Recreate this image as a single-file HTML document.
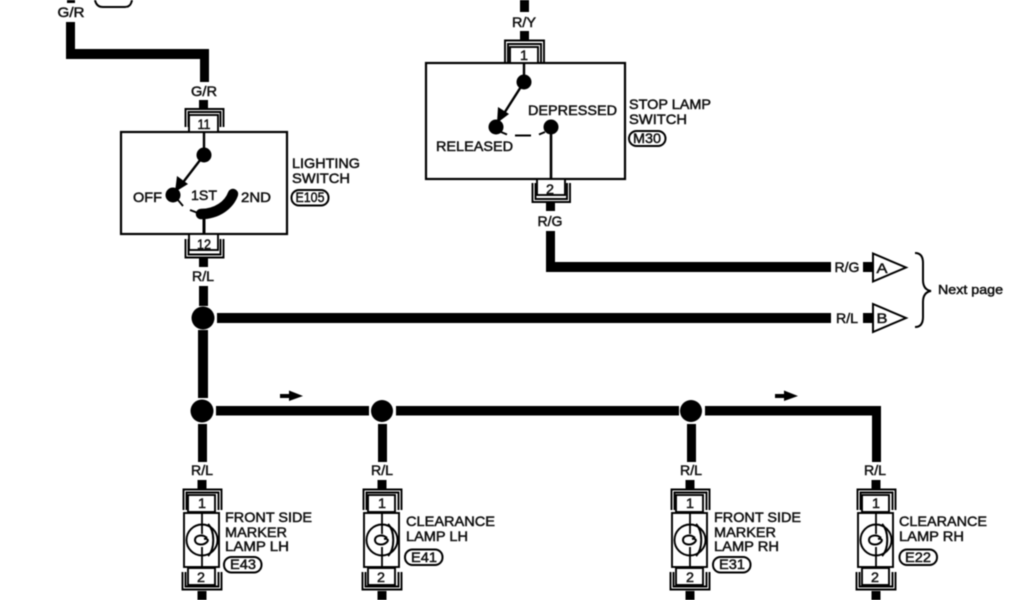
<!DOCTYPE html>
<html><head><meta charset="utf-8"><style>
html,body{margin:0;padding:0;background:#fff;width:1024px;height:600px;overflow:hidden}
svg{display:block;filter:blur(.4px)}
text{font-family:"Liberation Sans",sans-serif;font-size:14px;fill:#111;stroke:#111;stroke-width:.5}
.m{text-anchor:middle}
</style></head><body>
<svg width="1024" height="600" viewBox="0 0 1024 600" xmlns="http://www.w3.org/2000/svg">
<defs>
<g id="lamp">
<rect x="-4.500" y="480" width="9" height="9" fill="#000"/>
<path d="M-18.500 510V489.500H19.500V510M-15.500 510V492.500H16.500V510" fill="none" stroke="#000" stroke-width="1.900"/>
<rect x="-14" y="495" width="27" height="17" fill="#fff" stroke="#000" stroke-width="1.900"/>
<rect x="-18" y="513" width="35" height="54" fill="#fff" stroke="#000" stroke-width="1.900"/>
<rect x="-14" y="568" width="27" height="17" fill="#fff" stroke="#000" stroke-width="1.900"/>
<path d="M-19.500 572V589.500H19.500V572M-16.500 572V586.500H16.500V572" fill="none" stroke="#000" stroke-width="1.900"/>
<rect x="-4.500" y="591" width="9" height="9" fill="#000"/>
<circle cx="0" cy="540" r="15.500" fill="none" stroke="#000" stroke-width="1.900"/>
<path d="M0 513V534M0 547V567" stroke="#000" stroke-width="1.800" fill="none"/>
<path d="M6 524C13 531 13 549 6 556M5 538C1 534 -7 535 -7 540C-7 545 1 546 5 542C7 540 5 538 2 539" fill="none" stroke="#000" stroke-width="2"/>
</g>
</defs>
<rect width="1024" height="600" fill="#fff"/>

<!-- thick wires -->
<g fill="#000">
<rect x="67" y="0" width="8" height="3"/>
<rect x="66" y="22" width="9" height="37"/>
<rect x="66" y="49" width="143" height="10"/>
<rect x="200" y="49" width="9" height="33"/>
<rect x="199" y="100" width="9" height="9"/>
<rect x="199" y="258" width="9" height="9"/>
<rect x="199" y="286" width="9" height="20"/>
<circle cx="203" cy="318" r="11.500"/>
<rect x="217" y="313" width="614" height="10"/>
<rect x="198" y="330" width="10" height="68"/>
<circle cx="202" cy="411" r="11.500"/>
<rect x="216" y="406" width="153" height="9.500"/>
<circle cx="382" cy="411" r="11"/>
<rect x="396" y="406" width="283" height="9.500"/>
<circle cx="691" cy="411" r="11"/>
<rect x="705" y="406" width="176" height="9.500"/>
<rect x="872" y="406" width="9" height="56"/>
<rect x="198" y="424" width="9" height="38"/>
<rect x="378" y="424" width="9" height="38"/>
<rect x="687" y="424" width="9" height="38"/>
<rect x="520" y="0" width="9" height="12"/>
<rect x="520" y="31" width="9" height="9"/>
<rect x="546" y="203" width="9" height="8"/>
<rect x="546" y="231" width="9" height="40"/>
<rect x="546" y="262" width="285" height="10"/>
<rect x="863" y="262" width="11" height="10"/>
<rect x="863" y="313" width="11" height="10"/>
</g>

<!-- flow arrows -->
<path d="M280 394H289V390.500L303 396L289 401V398H280Z" fill="#000"/>
<path d="M775 394H784V390.500L798 396L784 401V398H775Z" fill="#000"/>

<!-- top badge fragment -->
<path d="M95 0C96 5 99 7 103 7H125C129 7 131 5 132 0" fill="none" stroke="#000" stroke-width="2"/>
<text x="71" y="17" class="m" textLength="27" lengthAdjust="spacingAndGlyphs">G/R</text>

<!-- Lighting switch -->
<text x="204" y="96" class="m" textLength="26" lengthAdjust="spacingAndGlyphs">G/R</text>
<path d="M185.500 127V109H223.500V127M188.500 127V112H220.500V127" fill="none" stroke="#000" stroke-width="1.900"/>
<rect x="121" y="132" width="166" height="102" fill="#fff" stroke="#000" stroke-width="2.200"/>
<rect x="189" y="115" width="29" height="17" fill="#fff" stroke="#000" stroke-width="1.900"/>
<text x="204" y="129" class="m" textLength="13" lengthAdjust="spacingAndGlyphs">11</text>
<rect x="189" y="234" width="29" height="16" fill="#fff" stroke="#000" stroke-width="1.900"/>
<text x="204" y="249" class="m" textLength="14" lengthAdjust="spacingAndGlyphs">12</text>
<path d="M185.500 239V257.500H223.500V239M188.500 239V254.500H220.500V239" fill="none" stroke="#000" stroke-width="1.900"/>
<text x="203" y="281" class="m" textLength="22" lengthAdjust="spacingAndGlyphs">R/L</text>
<circle cx="204" cy="155" r="7.500" fill="#000"/>
<path d="M204 132V155M204 155L181 185" stroke="#000" stroke-width="2.400" fill="none"/>
<path d="M175 192L177 176L188 184Z" fill="#000"/>
<circle cx="173" cy="195" r="7.500" fill="#000"/>
<path d="M178 200L183 206" stroke="#000" stroke-width="1.800"/>
<path d="M233 194C229 205 217 214 201 214" fill="none" stroke="#000" stroke-width="10.500" stroke-linecap="round"/>
<path d="M190 210L198 213" stroke="#000" stroke-width="2"/>
<path d="M204 216V234" stroke="#000" stroke-width="3"/>
<text x="191" y="200" textLength="26" lengthAdjust="spacingAndGlyphs">1ST</text>
<text x="133" y="202" textLength="29" lengthAdjust="spacingAndGlyphs">OFF</text>
<text x="241" y="202" textLength="30" lengthAdjust="spacingAndGlyphs">2ND</text>
<text x="292" y="168" textLength="68" lengthAdjust="spacingAndGlyphs">LIGHTING</text>
<text x="292" y="183" textLength="58" lengthAdjust="spacingAndGlyphs">SWITCH</text>
<rect x="291.500" y="190" width="37" height="15.500" rx="7.500" fill="none" stroke="#000" stroke-width="2"/>
<text x="310" y="202" class="m" textLength="29" lengthAdjust="spacingAndGlyphs">E105</text>

<!-- Stop lamp switch -->
<text x="524" y="27" class="m" textLength="24" lengthAdjust="spacingAndGlyphs">R/Y</text>
<path d="M505 62V40.500H544V62M508 62V44H541V62" fill="none" stroke="#000" stroke-width="1.900"/>
<rect x="426" y="63" width="199" height="116" fill="#fff" stroke="#000" stroke-width="2.200"/>
<rect x="510" y="47" width="28" height="16" fill="#fff" stroke="#000" stroke-width="1.900"/>
<text x="524" y="60" class="m" textLength="8" lengthAdjust="spacingAndGlyphs">1</text>
<rect x="537" y="179" width="28" height="16" fill="#fff" stroke="#000" stroke-width="1.900"/>
<text x="550" y="194" class="m" textLength="8" lengthAdjust="spacingAndGlyphs">2</text>
<path d="M532.500 183V202H570V183M535.500 183V199H567V183" fill="none" stroke="#000" stroke-width="1.900"/>
<text x="550" y="226" class="m" textLength="25" lengthAdjust="spacingAndGlyphs">R/G</text>
<circle cx="524" cy="82" r="7.500" fill="#000"/>
<path d="M524 63V82M524 82L503 115" stroke="#000" stroke-width="2.400" fill="none"/>
<path d="M497 123L498 107L509 114Z" fill="#000"/>
<circle cx="496" cy="127" r="7.500" fill="#000"/>
<circle cx="551" cy="127" r="7.500" fill="#000"/>
<path d="M551 127V179" stroke="#000" stroke-width="2.600"/>
<path d="M501 132L507 134.500M515 135.500H531M539 134.500L545 132" stroke="#000" stroke-width="2" fill="none"/>
<text x="528" y="115" textLength="89" lengthAdjust="spacingAndGlyphs">DEPRESSED</text>
<text x="436" y="151" textLength="77" lengthAdjust="spacingAndGlyphs">RELEASED</text>
<text x="629" y="109" textLength="82" lengthAdjust="spacingAndGlyphs">STOP LAMP</text>
<text x="629" y="124" textLength="58" lengthAdjust="spacingAndGlyphs">SWITCH</text>
<rect x="629" y="131" width="36.500" height="15" rx="7.500" fill="none" stroke="#000" stroke-width="2"/>
<text x="647" y="143" class="m" textLength="28" lengthAdjust="spacingAndGlyphs">M30</text>

<!-- Terminals -->
<text x="847" y="272" class="m" textLength="25" lengthAdjust="spacingAndGlyphs">R/G</text>
<text x="847" y="323" class="m" textLength="22" lengthAdjust="spacingAndGlyphs">R/L</text>
<path d="M873 253.500V281.500L906 267.500Z" fill="#fff" stroke="#000" stroke-width="2"/>
<path d="M873 304V332L906 318Z" fill="#fff" stroke="#000" stroke-width="2"/>
<text x="882" y="273" class="m" textLength="11" lengthAdjust="spacingAndGlyphs">A</text>
<text x="882" y="323" class="m" textLength="11" lengthAdjust="spacingAndGlyphs">B</text>
<path d="M915 253C921 253 923 257 923 263V280C923 286 925 290 931 291C925 292 923 296 923 302V317C923 323 921 327 915 327" fill="none" stroke="#000" stroke-width="2"/>
<text x="938" y="294" textLength="65" lengthAdjust="spacingAndGlyphs" style="font-size:13px">Next page</text>

<!-- Lamps -->
<use href="#lamp" x="202"/>
<use href="#lamp" x="382"/>
<use href="#lamp" x="690"/>
<use href="#lamp" x="876"/>
<g>
<text x="202" y="475" class="m" textLength="22" lengthAdjust="spacingAndGlyphs">R/L</text>
<text x="382" y="475" class="m" textLength="22" lengthAdjust="spacingAndGlyphs">R/L</text>
<text x="691" y="475" class="m" textLength="22" lengthAdjust="spacingAndGlyphs">R/L</text>
<text x="875" y="475" class="m" textLength="22" lengthAdjust="spacingAndGlyphs">R/L</text>
<text x="202" y="508" class="m" textLength="8" lengthAdjust="spacingAndGlyphs">1</text>
<text x="382" y="508" class="m" textLength="8" lengthAdjust="spacingAndGlyphs">1</text>
<text x="690" y="508" class="m" textLength="8" lengthAdjust="spacingAndGlyphs">1</text>
<text x="876" y="508" class="m" textLength="8" lengthAdjust="spacingAndGlyphs">1</text>
<text x="201" y="582" class="m" textLength="8" lengthAdjust="spacingAndGlyphs">2</text>
<text x="381" y="582" class="m" textLength="8" lengthAdjust="spacingAndGlyphs">2</text>
<text x="690" y="582" class="m" textLength="8" lengthAdjust="spacingAndGlyphs">2</text>
<text x="875" y="582" class="m" textLength="8" lengthAdjust="spacingAndGlyphs">2</text>
</g>

<text x="225" y="522" textLength="87" lengthAdjust="spacingAndGlyphs">FRONT SIDE</text>
<text x="225" y="537" textLength="62" lengthAdjust="spacingAndGlyphs">MARKER</text>
<text x="225" y="551" textLength="64" lengthAdjust="spacingAndGlyphs">LAMP LH</text>
<rect x="224" y="557" width="37.500" height="15.500" rx="7.500" fill="none" stroke="#000" stroke-width="2"/>
<text x="243" y="569" class="m" textLength="26" lengthAdjust="spacingAndGlyphs">E43</text>

<text x="406" y="526" textLength="89" lengthAdjust="spacingAndGlyphs">CLEARANCE</text>
<text x="406" y="541" textLength="62" lengthAdjust="spacingAndGlyphs">LAMP LH</text>
<rect x="405" y="549.500" width="37.500" height="15.500" rx="7.500" fill="none" stroke="#000" stroke-width="2"/>
<text x="424" y="562" class="m" textLength="26" lengthAdjust="spacingAndGlyphs">E41</text>

<text x="714" y="522" textLength="87" lengthAdjust="spacingAndGlyphs">FRONT SIDE</text>
<text x="714" y="537" textLength="62" lengthAdjust="spacingAndGlyphs">MARKER</text>
<text x="714" y="551" textLength="65" lengthAdjust="spacingAndGlyphs">LAMP RH</text>
<rect x="713" y="557" width="37.500" height="15.500" rx="7.500" fill="none" stroke="#000" stroke-width="2"/>
<text x="732" y="569" class="m" textLength="26" lengthAdjust="spacingAndGlyphs">E31</text>

<text x="899" y="526" textLength="88" lengthAdjust="spacingAndGlyphs">CLEARANCE</text>
<text x="899" y="541" textLength="65" lengthAdjust="spacingAndGlyphs">LAMP RH</text>
<rect x="899.500" y="549.500" width="37.500" height="15.500" rx="7.500" fill="none" stroke="#000" stroke-width="2"/>
<text x="918" y="562" class="m" textLength="26" lengthAdjust="spacingAndGlyphs">E22</text>
</svg>
</body></html>
